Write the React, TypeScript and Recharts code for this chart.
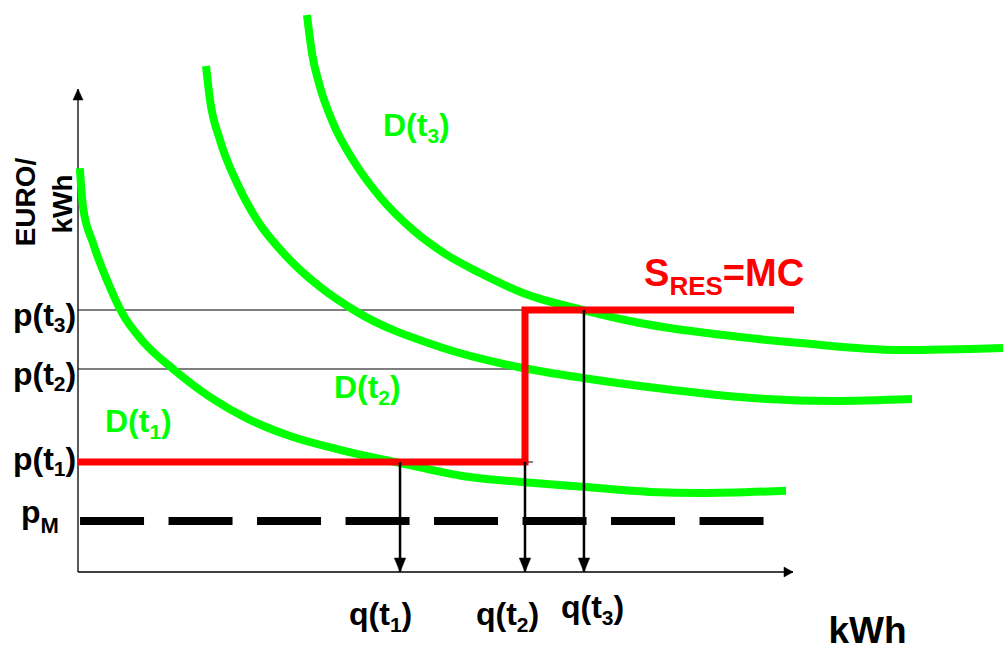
import React from 'react';
import { LineChart, Line, XAxis, YAxis, ReferenceDot } from 'recharts';

// ---------- DATA (x: quantity kWh, 0-100 scale; y: price EURO/kWh, 0-100 scale) ----------
const PRICE_LABELS = ['p_{M}', 'p(t_{1})', 'p(t_{2})', 'p(t_{3})'];
const PRICE_VALUES = [8.92, 19.23, 35.49, 45.8];

const QTY_LABELS = ['q(t_{1})', 'q(t_{2})', 'q(t_{3})'];
const QTY_VALUES = [34.74, 48.22, 54.58];

const demandT1: [number, number][] = [
  [0.2, 70.6], [0.54, 63.8], [1.62, 57.5], [3.13, 51.0], [4.75, 45.3], [7.01, 40.3],
  [10.25, 35.5], [14.24, 30.6], [18.55, 26.6], [23.19, 23.6], [27.94, 21.5], [32.58, 19.76],
  [34.74, 19.06], [42.29, 16.6], [48.22, 15.7], [54.48, 14.9], [61.7, 14.0], [67.1, 13.8],
  [76.38, 14.2],
];
const demandT2: [number, number][] = [
  [13.81, 88.46], [14.24, 82.52], [15.32, 75.52], [17.15, 68.01], [19.31, 61.54],
  [22.55, 55.07], [26.11, 49.83], [30.1, 45.45], [39.05, 39.34], [48.0, 35.66],
  [54.48, 33.92], [67.1, 31.29], [71.41, 30.59], [81.45, 29.9], [89.97, 30.24],
];
const demandT3: [number, number][] = [
  [24.7, 97.38], [25.24, 90.73], [26.11, 84.79], [27.51, 78.5], [29.67, 72.03],
  [32.58, 65.56], [36.14, 59.79], [39.81, 55.42], [43.37, 52.27], [48.0, 48.78],
  [54.48, 45.8], [60.63, 43.53], [71.41, 41.08], [77.89, 40.03], [88.67, 38.81],
  [99.78, 39.16],
];

const SUPPLY_END = 77.24;      // end of the S_RES=MC step
const MARKET_START = 0.22;     // p_M dashed line extent
const MARKET_END = 74.0;
const P1_GUIDE_END = 49.08;
const X_AXIS_END = 77.13;
const Y_AXIS_END = 84.44;

const [pM, p1, p2, p3] = PRICE_VALUES;
const [q1, q2, q3] = QTY_VALUES;

const supplyRES: [number, number][] = [[0, p1], [q2, p1], [q2, p3], [SUPPLY_END, p3]];
const marketPrice: [number, number][] = [[MARKET_START, pM], [MARKET_END, pM]];
const guideP3: [number, number][] = [[0, p3], [q2, p3]];
const guideP2: [number, number][] = [[0, p2], [q2, p2]];
const guideP1: [number, number][] = [[0, p1], [P1_GUIDE_END, p1]];
const xAxisLine: [number, number][] = [[0, 0], [X_AXIS_END, 0]];
const yAxisLine: [number, number][] = [[0, 0], [0, Y_AXIS_END]];
const dropQ1: [number, number][] = [[q1, p1], [q1, 0]];
const dropQ2: [number, number][] = [[q2, p1], [q2, 0]];
const dropQ3: [number, number][] = [[q3, p3], [q3, 0]];

const pts = (a: [number, number][]) => a.map(([x, y]) => ({ x, y }));

// ---------- STYLE / LAYOUT ----------
const FONT = '"Liberation Sans", Arial, Helvetica, sans-serif';
const GREEN = '#00ff00';
const RED = '#ff0000';

const PRICE_LABEL_X = [21, 13, 13, 13];
const PRICE_LABEL_DY = [2, 8, 16, 16];
const PRICE_SUB = [{ size: 22, dy: 10 }, { size: 21, dy: 6 }, { size: 21, dy: 6 }, { size: 21, dy: 6 }];
const QTY_LABEL_DX = [-51, -49, -23];
const QTY_LABEL_Y = [625, 625, 618];

const CURVE_LABELS = [
  { text: 'D(t_{3})', x: 32.9, y: 76.22, color: GREEN, size: 32, sub: 21, subDy: 7 },
  { text: 'D(t_{2})', x: 27.61, y: 30.42, color: GREEN, size: 32, sub: 21, subDy: 7 },
  { text: 'D(t_{1})', x: 2.91, y: 24.48, color: GREEN, size: 32, sub: 21, subDy: 7 },
  { text: 'S_{RES}=MC', x: 61.06, y: 50.0, color: RED, size: 38, sub: 26, subDy: 9 },
  { text: 'kWh', x: 80.96, y: -12.41, color: '#000', size: 37, sub: 24, subDy: 7 },
];
const Y_TITLE = [
  { text: 'EURO/', x: -4.64, y: 64.69 },
  { text: 'kWh', x: -0.65, y: 64.34 },
];

// ---------- helpers ----------
function RichText(props: {
  x: number; y: number; text: string; size: number; subSize: number; subDy: number;
  fill: string; anchor?: 'start' | 'middle' | 'end'; transform?: string;
}) {
  const { x, y, text, size, subSize, subDy, fill, anchor = 'start', transform } = props;
  const parts = text.split(/(_\{[^}]*\})/).filter((s) => s.length > 0);
  let prevSub = false;
  const spans = parts.map((p, i) => {
    if (p.startsWith('_{')) {
      const el = (
        <tspan key={i} fontSize={subSize} dy={prevSub ? 0 : subDy}>
          {p.slice(2, -1)}
        </tspan>
      );
      prevSub = true;
      return el;
    }
    const el = (
      <tspan key={i} dy={prevSub ? -subDy : 0}>
        {p}
      </tspan>
    );
    prevSub = false;
    return el;
  });
  return (
    <text
      x={x}
      y={y}
      fontSize={size}
      fontWeight="bold"
      fontFamily={FONT}
      fill={fill}
      textAnchor={anchor}
      transform={transform}
    >
      {spans}
    </text>
  );
}

const PriceTick = (props: any) => {
  const { y, payload } = props;
  const i = PRICE_VALUES.indexOf(payload.value);
  if (i < 0) return <g />;
  return (
    <RichText
      x={PRICE_LABEL_X[i]}
      y={y + PRICE_LABEL_DY[i]}
      text={PRICE_LABELS[i]}
      size={32}
      subSize={PRICE_SUB[i].size}
      subDy={PRICE_SUB[i].dy}
      fill="#000"
    />
  );
};

const QtyTick = (props: any) => {
  const { x, payload } = props;
  const i = QTY_VALUES.indexOf(payload.value);
  if (i < 0) return <g />;
  return (
    <RichText
      x={x + QTY_LABEL_DX[i]}
      y={QTY_LABEL_Y[i]}
      text={QTY_LABELS[i]}
      size={32}
      subSize={21}
      subDy={7}
      fill="#000"
    />
  );
};

const arrowHead = (n: number, dir: 'up' | 'down' | 'right', len: number, half: number) =>
  (props: any) => {
    const { cx, cy, index } = props;
    if (index !== n - 1 || cx == null || cy == null) return <g key={`a${index}`} />;
    let p = '';
    if (dir === 'down') p = `${cx},${cy} ${cx - half},${cy - len} ${cx + half},${cy - len}`;
    if (dir === 'up') p = `${cx},${cy} ${cx - half},${cy + len} ${cx + half},${cy + len}`;
    if (dir === 'right') p = `${cx},${cy} ${cx - len},${cy - half} ${cx - len},${cy + half}`;
    return <polygon key={`a${index}`} points={p} fill="#000" stroke="#000" strokeWidth={0.5} />;
  };

const labelShape = (l: (typeof CURVE_LABELS)[number]) => (props: any) => (
  <RichText
    x={props.cx}
    y={props.cy}
    text={l.text}
    size={l.size}
    subSize={l.sub}
    subDy={l.subDy}
    fill={l.color}
  />
);

const yTitleShape = (text: string) => (props: any) => (
  <RichText
    x={props.cx}
    y={props.cy}
    text={text}
    size={28}
    subSize={20}
    subDy={6}
    fill="#000"
    anchor="middle"
    transform={`rotate(-90, ${props.cx}, ${props.cy})`}
  />
);

const common = {
  dataKey: 'y',
  isAnimationActive: false,
  activeDot: false as const,
  legendType: 'none' as const,
};

export default function App() {
  return (
    <div style={{ position: 'absolute', left: 0, top: 0, width: 1005, height: 651, background: '#fff' }}>
      <LineChart width={1005} height={651} margin={{ top: 0, right: 0, bottom: 0, left: 0 }}>
        <XAxis
          type="number"
          dataKey="x"
          domain={[0, 100]}
          ticks={QTY_VALUES}
          interval={0}
          axisLine={false}
          tickLine={false}
          height={79}
          tick={<QtyTick />}
        />
        <YAxis
          type="number"
          dataKey="y"
          domain={[0, 100]}
          ticks={PRICE_VALUES}
          interval={0}
          axisLine={false}
          tickLine={false}
          width={78}
          tick={<PriceTick />}
        />

        {/* guide lines */}
        <Line {...common} data={pts(guideP3)} type="linear" stroke="#000" strokeWidth={1.2} dot={false} />
        <Line {...common} data={pts(guideP2)} type="linear" stroke="#000" strokeWidth={1.2} dot={false} />
        <Line {...common} data={pts(guideP1)} type="linear" stroke="#000" strokeWidth={1.2} dot={false} />

        {/* market price p_M */}
        <Line
          {...common}
          data={pts(marketPrice)}
          type="linear"
          stroke="#000"
          strokeWidth={8}
          strokeDasharray="64 24.5"
          dot={false}
        />

        {/* axes */}
        <Line
          {...common}
          data={pts(xAxisLine)}
          type="linear"
          stroke="#000"
          strokeWidth={1.3}
          dot={arrowHead(xAxisLine.length, 'right', 9, 5)}
        />
        <Line
          {...common}
          data={pts(yAxisLine)}
          type="linear"
          stroke="#000"
          strokeWidth={1.3}
          dot={arrowHead(yAxisLine.length, 'up', 11, 5)}
        />

        {/* demand curves */}
        <Line {...common} data={pts(demandT1)} type="monotone" stroke={GREEN} strokeWidth={8} dot={false} />
        <Line {...common} data={pts(demandT2)} type="monotone" stroke={GREEN} strokeWidth={8} dot={false} />
        <Line {...common} data={pts(demandT3)} type="monotone" stroke={GREEN} strokeWidth={8} dot={false} />

        {/* supply S_RES = MC */}
        <Line {...common} data={pts(supplyRES)} type="linear" stroke={RED} strokeWidth={7} dot={false} />

        {/* quantity drops */}
        <Line
          {...common}
          data={pts(dropQ1)}
          type="linear"
          stroke="#000"
          strokeWidth={2.5}
          dot={arrowHead(dropQ1.length, 'down', 14, 5.7)}
        />
        <Line
          {...common}
          data={pts(dropQ2)}
          type="linear"
          stroke="#000"
          strokeWidth={2.5}
          dot={arrowHead(dropQ2.length, 'down', 14, 5.7)}
        />
        <Line
          {...common}
          data={pts(dropQ3)}
          type="linear"
          stroke="#000"
          strokeWidth={2.5}
          dot={arrowHead(dropQ3.length, 'down', 14, 5.7)}
        />

        {CURVE_LABELS.map((l, i) => (
          <ReferenceDot
            key={`cl${i}`}
            x={l.x}
            y={l.y}
            r={0}
            ifOverflow="visible"
            shape={labelShape(l)}
          />
        ))}
        {Y_TITLE.map((t, i) => (
          <ReferenceDot
            key={`yt${i}`}
            x={t.x}
            y={t.y}
            r={0}
            ifOverflow="visible"
            shape={yTitleShape(t.text)}
          />
        ))}
      </LineChart>
    </div>
  );
}
